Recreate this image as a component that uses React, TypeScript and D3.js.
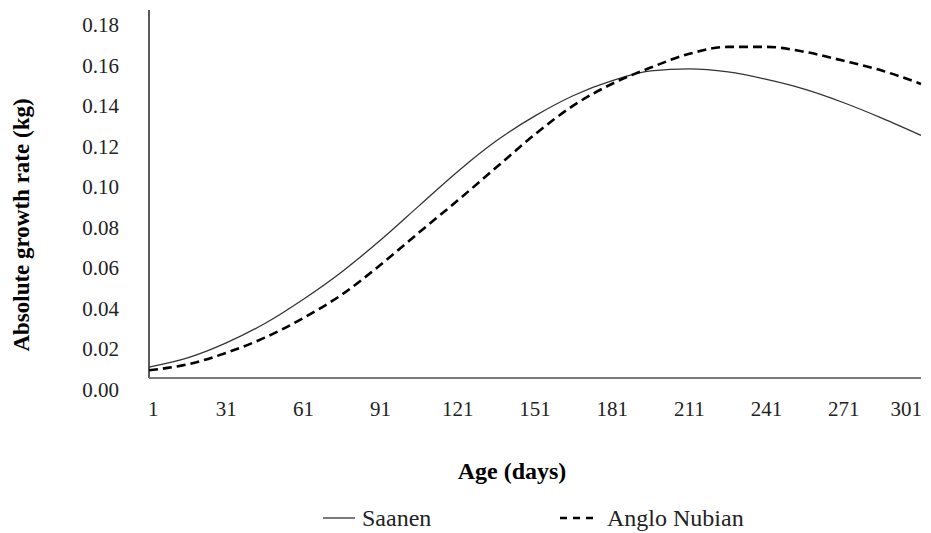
import React from "react";
import * as d3 from "d3";

const days = [1, 16, 31, 46, 61, 76, 91, 106, 121, 136, 151, 166, 181, 196, 211, 226, 241, 256, 271, 286, 301];
const saanen = [0.0111, 0.0156, 0.0230, 0.0326, 0.0446, 0.0582, 0.0738, 0.0908, 0.1077, 0.1228, 0.1351, 0.1452, 0.1525, 0.1573, 0.1583, 0.1568, 0.1531, 0.1482, 0.1416, 0.1339, 0.1255];
const angloNubian = [0.0095, 0.0124, 0.0181, 0.0256, 0.0353, 0.0469, 0.0616, 0.0776, 0.0934, 0.1097, 0.1260, 0.1403, 0.1510, 0.1590, 0.1658, 0.1692, 0.1692, 0.1667, 0.1623, 0.1574, 0.1509];
const xTicks = [1, 31, 61, 91, 121, 151, 181, 211, 241, 271, 301];
const yTicks = [0, 0.02, 0.04, 0.06, 0.08, 0.1, 0.12, 0.14, 0.16, 0.18];
const seriesNames = ["Saanen", "Anglo Nubian"];

const W = 931;
const H = 533;
const plot = { left: 149, right: 921, top: 10, bottom: 378 };
const FONT = "Liberation Serif";

export default function App() {
  const x = d3.scaleLinear().domain([1, 301]).range([plot.left, plot.right]);
  const y = d3.scaleLinear().domain([0, 0.18]).range([389.5, 25]);

  const line = d3
    .line<number>()
    .x((_, i) => x(days[i]))
    .y((v) => y(v))
    .curve(d3.curveMonotoneX);

  return (
    <svg
      width={W}
      height={H}
      viewBox={`0 0 ${W} ${H}`}
      style={{ position: "absolute", left: 0, top: 0, background: "#fff" }}
    >
      <rect x={0} y={0} width={W} height={H} fill="#fff" />
      {yTicks.map((t) => (
        <text key={t} x={119} y={y(t)} textAnchor="end" dominantBaseline="central" fontSize={21} fill="#222" fontFamily={FONT}>
          {d3.format(".2f")(t)}
        </text>
      ))}
      {xTicks.map((t, i) => {
        const anchor = i === 0 ? "start" : i === xTicks.length - 1 ? "end" : "middle";
        const xx = i === 0 ? x(t) - 1 : i === xTicks.length - 1 ? x(t) + 1 : x(t);
        return (
          <text key={t} x={xx} y={416} textAnchor={anchor} fontSize={21} fill="#222" fontFamily={FONT}>
            {t}
          </text>
        );
      })}
      <line x1={plot.left} x2={plot.left} y1={plot.top} y2={plot.bottom} stroke="#000" strokeWidth={1.3} />
      <line x1={plot.left} x2={plot.right} y1={plot.bottom} y2={plot.bottom} stroke="#7a7a7a" strokeWidth={1.8} />
      <path d={line(saanen) || ""} fill="none" stroke="#333" strokeWidth={1.3} />
      <path d={line(angloNubian) || ""} fill="none" stroke="#000" strokeWidth={2.6} strokeDasharray="9,5" />
      <text
        transform={`translate(29,225) rotate(-90)`}
        textAnchor="middle"
        fontSize={23}
        fontWeight="bold"
        fill="#000"
        fontFamily={FONT}
      >
        Absolute growth rate (kg)
      </text>
      <text x={512} y={479} textAnchor="middle" fontSize={24} fontWeight="bold" fill="#000" fontFamily={FONT}>
        Age (days)
      </text>
      <line x1={323} x2={355} y1={518} y2={518} stroke="#333" strokeWidth={1.3} />
      <text x={362} y={526} fontSize={24} fill="#222" fontFamily={FONT}>
        {seriesNames[0]}
      </text>
      <line x1={560} x2={593} y1={518} y2={518} stroke="#000" strokeWidth={2.6} strokeDasharray="7,6" />
      <text x={607} y={526} fontSize={24} fill="#222" fontFamily={FONT}>
        {seriesNames[1]}
      </text>
    </svg>
  );
}
